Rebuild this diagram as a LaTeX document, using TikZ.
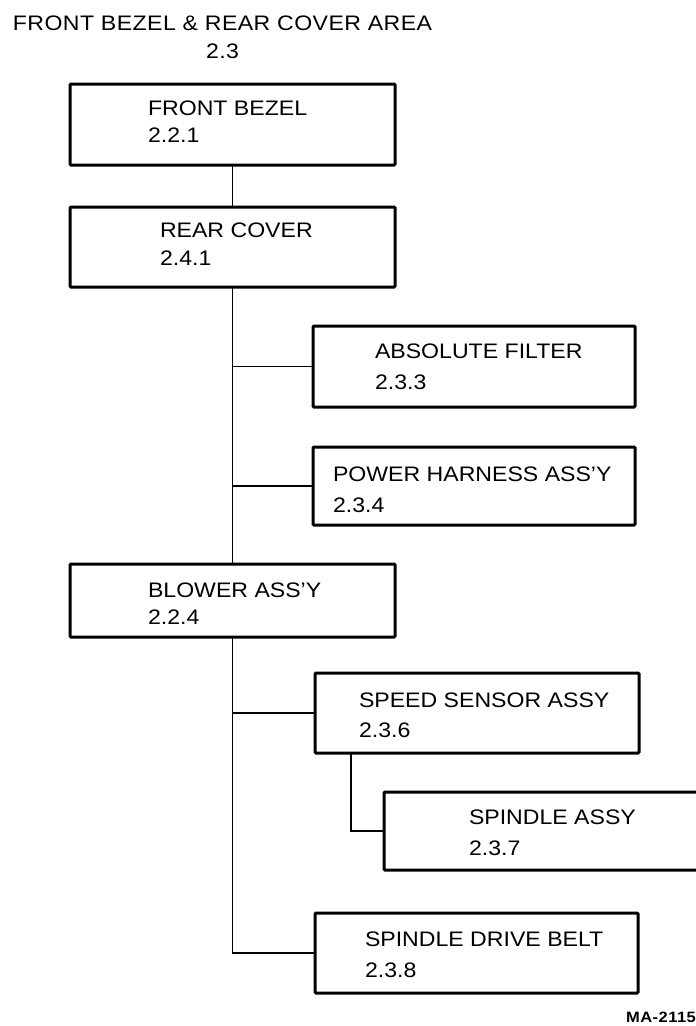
\documentclass[tikz,border=0pt]{standalone}
\usepackage{fontspec}
\setmainfont{Liberation Sans}[FakeStretch=1.1]
\begin{document}
\begin{tikzpicture}[x=1pt,y=-1pt,
  box/.style={draw,line width=3pt,rounded corners=1pt,inner sep=0pt,outer sep=0pt,anchor=north west},
  conn/.style={line width=1.8pt},
  lbl/.style={inner sep=0pt,outer sep=0pt,anchor=base west,align=left,font=\fontsize{21}{30}\selectfont},
  ]
\useasboundingbox (0,0) rectangle (696,1026);
\begin{scope}
\clip (0,0) rectangle (696,1026);
% title
\node[inner sep=0pt,anchor=base,align=center,font=\fontsize{21}{28}\selectfont\addfontfeatures{LetterSpace=2}] (title) at (222.5,58) {FRONT BEZEL \& REAR COVER AREA\\2.3};
% boxes
\node[box,minimum width=325pt,minimum height=81pt] (fb) at (70,84) {};
\node[box,minimum width=325pt,minimum height=80pt] (rc) at (70,207) {};
\node[box,minimum width=322pt,minimum height=81pt] (af) at (313,326) {};
\node[box,minimum width=322pt,minimum height=78pt] (ph) at (313,447) {};
\node[box,minimum width=325pt,minimum height=73pt] (bl) at (70,564) {};
\node[box,minimum width=324pt,minimum height=80pt] (ss) at (315,673) {};
\node[box,minimum width=340pt,minimum height=78pt] (sp) at (384,792) {};
\node[box,minimum width=323pt,minimum height=80pt] (sdb) at (315,913) {};
% labels
\node[lbl] (tfb) at (148,142) {FRONT BEZEL\\[-3pt]2.2.1};
\node[lbl] (trc) at (160,265) {REAR COVER\\[-2pt]2.4.1};
\node[lbl] (taf) at (375,389) {ABSOLUTE FILTER\\[1pt]2.3.3};
\node[lbl] (tph) at (333,512) {POWER HARNESS ASS'Y\\[1pt]2.3.4};
\node[lbl] (tbl) at (148,624) {BLOWER ASS'Y\\[-3pt]2.2.4};
\node[lbl] (tss) at (359,737) {SPEED SENSOR ASSY\\[0pt]2.3.6};
\node[lbl] (tsp) at (469,855) {SPINDLE ASSY\\[1pt]2.3.7};
\node[lbl] (tsdb) at (365,977) {SPINDLE DRIVE BELT\\[1pt]2.3.8};
\node[inner sep=0pt,anchor=base east,font=\fontsize{15}{17}\selectfont\bfseries\addfontfeatures{LetterSpace=3}] (ma) at (696,1022) {MA-2115};
% connectors
\draw[conn] (fb.south) -- (rc.north);
\draw[conn] (rc.south) -- (bl.north);
\draw[conn] (af.west) -- (af.west -| rc.south);
\draw[conn] (ph.west) -- (ph.west -| rc.south);
\draw[conn] (bl.south) |- (sdb.west);
\draw[conn] (ss.west) -- (ss.west -| bl.south);
\draw[conn] ([xshift=36pt]ss.south west) |- (sp.west);
\end{scope}
\end{tikzpicture}
\end{document}
